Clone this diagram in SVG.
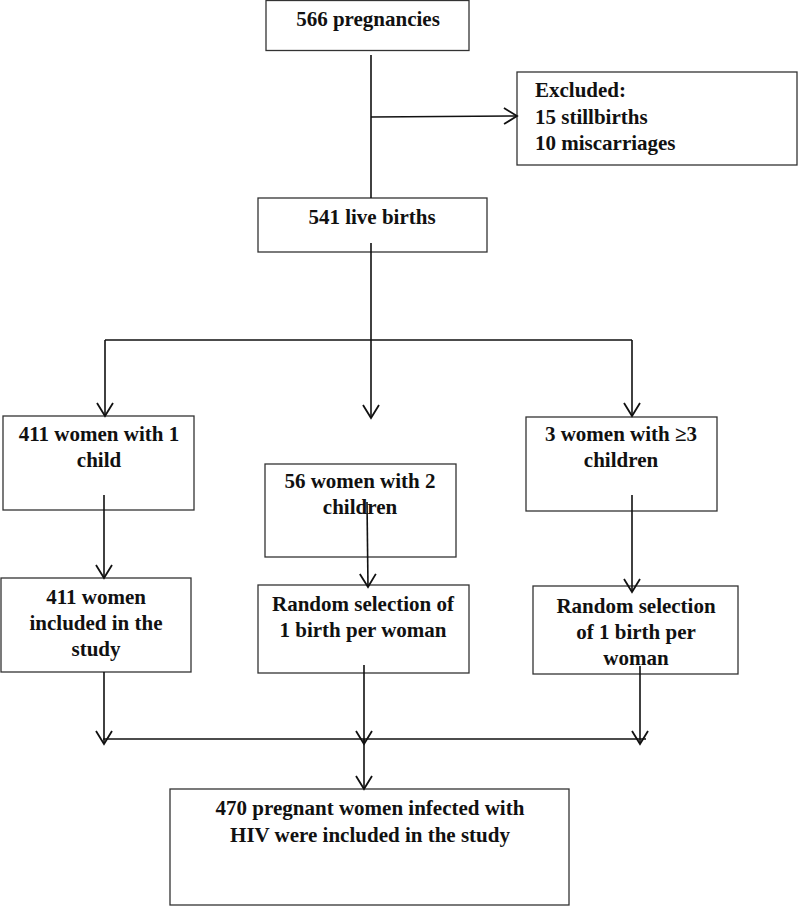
<svg xmlns="http://www.w3.org/2000/svg" width="800" height="906" viewBox="0 0 800 906">
<defs>
<style>
.box{fill:#fff;stroke:#333;stroke-width:1.3}
.t{font-family:"Liberation Serif","Times New Roman",serif;font-weight:bold;font-size:21px;fill:#111}
.c{text-anchor:middle}
.ln{stroke:#111;stroke-width:1.6;fill:none}
</style>
<marker id="ah" markerUnits="userSpaceOnUse" markerWidth="20" markerHeight="20" refX="14" refY="9" orient="auto" viewBox="0 0 20 20">
<polyline points="1,1 14,9 1,17" fill="none" stroke="#111" stroke-width="1.8"/>
</marker>
</defs>
<rect width="800" height="906" fill="#fff"/>
<g id="n1"><rect class="box" x="266" y="0.5" width="203" height="50"/><text class="t c" x="368" y="26">566 pregnancies</text></g>
<g id="n2"><rect class="box" x="517" y="72" width="280" height="93"/><text class="t" x="535" y="97">Excluded:</text><text class="t" x="535" y="124">15 stillbirths</text><text class="t" x="535" y="150">10 miscarriages</text></g>
<g id="n3"><rect class="box" x="258" y="198" width="229" height="54"/><text class="t c" x="372" y="224">541 live births</text></g>
<g id="n4"><rect class="box" x="3" y="416" width="191" height="94"/><text class="t c" x="99" y="441">411 women with 1</text><text class="t c" x="99" y="467">child</text></g>
<g id="n5"><rect class="box" x="265" y="464" width="191" height="93"/><text class="t c" x="360" y="488">56 women with 2</text><text class="t c" x="360" y="514">children</text></g>
<g id="n6"><rect class="box" x="526" y="417" width="191" height="94"/><text class="t c" x="621" y="441">3 women with ≥3</text><text class="t c" x="621" y="467">children</text></g>
<g id="n7"><rect class="box" x="1" y="578" width="190" height="94"/><text class="t c" x="96" y="604">411 women</text><text class="t c" x="96" y="630">included in the</text><text class="t c" x="96" y="656">study</text></g>
<g id="n8"><rect class="box" x="258" y="585" width="211" height="88"/><text class="t c" x="363" y="611">Random selection of</text><text class="t c" x="363" y="637">1 birth per woman</text></g>
<g id="n9"><rect class="box" x="533" y="586" width="205" height="88"/><text class="t c" x="636" y="613">Random selection</text><text class="t c" x="636" y="639">of 1 birth per</text><text class="t c" x="636" y="665">woman</text></g>
<g id="n10"><rect class="box" x="170" y="789" width="399" height="116"/><text class="t c" x="370" y="815">470 pregnant women infected with</text><text class="t c" x="370" y="842">HIV were included in the study</text></g>
<g id="connectors">
<line class="ln" x1="371" y1="55" x2="371" y2="198"/>
<line class="ln" x1="371" y1="117" x2="517" y2="116" marker-end="url(#ah)"/>
<line class="ln" x1="371" y1="243" x2="371" y2="418" marker-end="url(#ah)"/>
<polyline class="ln" points="105,340 632,340"/>
<line class="ln" x1="105" y1="340" x2="105" y2="416" marker-end="url(#ah)"/>
<line class="ln" x1="632" y1="340" x2="632" y2="416" marker-end="url(#ah)"/>
<line class="ln" x1="104" y1="495" x2="104" y2="578" marker-end="url(#ah)"/>
<line class="ln" x1="367" y1="502" x2="368" y2="587" marker-end="url(#ah)"/>
<line class="ln" x1="632" y1="495" x2="632" y2="592" marker-end="url(#ah)"/>
<line class="ln" x1="104" y1="672" x2="104" y2="744" marker-end="url(#ah)"/>
<line class="ln" x1="364" y1="665" x2="364" y2="744" marker-end="url(#ah)"/>
<line class="ln" x1="640" y1="666" x2="640" y2="744" marker-end="url(#ah)"/>
<line class="ln" x1="103" y1="739" x2="646" y2="739"/>
<line class="ln" x1="364" y1="739" x2="364" y2="789" marker-end="url(#ah)"/>
</g>
</svg>
